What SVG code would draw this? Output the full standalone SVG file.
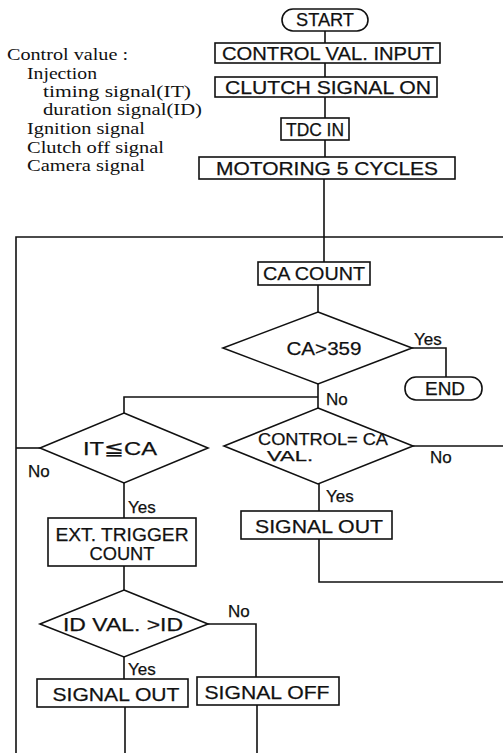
<svg xmlns="http://www.w3.org/2000/svg" width="503" height="753" viewBox="0 0 503 753">
<style>
.n{fill:#fff;stroke:#111;stroke-width:1.6}
.c{fill:none;stroke:#111;stroke-width:1.6}
.t{font-family:"Liberation Sans",Arial,sans-serif;font-size:19px;fill:#111;text-anchor:middle;stroke:#111;stroke-width:0.25}
.s{font-family:"Liberation Sans",Arial,sans-serif;font-size:17px;fill:#111;stroke:#111;stroke-width:0.25}
.r{font-family:"Liberation Serif","Times New Roman",serif;font-size:17px;fill:#111}
</style>
<rect width="503" height="753" fill="#fff"/>
<g id="legend">
<text class="r" x="7" y="60" textLength="121" lengthAdjust="spacingAndGlyphs">Control value :</text>
<text class="r" x="27" y="79" textLength="70" lengthAdjust="spacingAndGlyphs">Injection</text>
<text class="r" x="43" y="97" textLength="148" lengthAdjust="spacingAndGlyphs">timing signal(IT)</text>
<text class="r" x="43" y="115" textLength="159" lengthAdjust="spacingAndGlyphs">duration signal(ID)</text>
<text class="r" x="27" y="134" textLength="118" lengthAdjust="spacingAndGlyphs">Ignition signal</text>
<text class="r" x="27" y="153" textLength="137" lengthAdjust="spacingAndGlyphs">Clutch off signal</text>
<text class="r" x="27" y="171" textLength="118" lengthAdjust="spacingAndGlyphs">Camera signal</text>
</g>
<g id="connectors">
<path class="c" d="M325 31V43M325 63V77M325 97V118M325 140V157M324 179V262"/>
<path class="c" d="M16 753V237H503"/>
<path class="c" d="M318 285V312M318 384V408M318 397H124V413"/>
<path class="c" d="M412 348H446V377"/>
<path class="c" d="M40 448H16"/>
<path class="c" d="M413 446H503"/>
<path class="c" d="M319 484V511M319 539V582H503"/>
<path class="c" d="M124 483V518M124 566V590M124 657V679"/>
<path class="c" d="M208 624H256V677"/>
<path class="c" d="M125 707V753M257 705V753"/>
</g>
<g id="start"><rect class="n" x="282" y="9" width="86" height="22" rx="11"/><text class="t" x="325" y="26" textLength="58" lengthAdjust="spacingAndGlyphs">START</text></g>
<g id="control-input"><rect class="n" x="215" y="43" width="225" height="20"/><text class="t" x="328" y="60" textLength="212" lengthAdjust="spacingAndGlyphs">CONTROL VAL. INPUT</text></g>
<g id="clutch-on"><rect class="n" x="215" y="77" width="222" height="20"/><text class="t" x="328" y="94" textLength="206" lengthAdjust="spacingAndGlyphs">CLUTCH SIGNAL ON</text></g>
<g id="tdc-in"><rect class="n" x="281" y="118" width="68" height="22"/><text class="t" x="315" y="136" textLength="58" lengthAdjust="spacingAndGlyphs">TDC IN</text></g>
<g id="motoring"><rect class="n" x="199" y="157" width="256" height="22"/><text class="t" x="327" y="175" textLength="222" lengthAdjust="spacingAndGlyphs">MOTORING 5 CYCLES</text></g>
<g id="ca-count"><rect class="n" x="258" y="262" width="112" height="23"/><text class="t" x="314" y="280" textLength="102" lengthAdjust="spacingAndGlyphs">CA COUNT</text></g>
<g id="ca-359"><polygon class="n" points="318,312 412,348 318,384 223,348"/><text class="t" x="324" y="355" textLength="75" lengthAdjust="spacingAndGlyphs">CA&gt;359</text></g>
<g id="end"><rect class="n" x="405" y="377" width="77" height="23" rx="11"/><text class="t" x="445" y="395" textLength="40" lengthAdjust="spacingAndGlyphs">END</text></g>
<g id="it-ca"><polygon class="n" points="124,413 208,448 124,483 40,448"/><text class="t" x="120" y="455" textLength="74" lengthAdjust="spacingAndGlyphs">IT≦CA</text></g>
<g id="control-ca"><polygon class="n" points="318,408 413,446 318,484 224,446"/><text class="t" x="323" y="445" style="font-size:16px" textLength="130" lengthAdjust="spacingAndGlyphs">CONTROL= CA</text><text class="t" x="290" y="461" style="font-size:14px" textLength="46" lengthAdjust="spacingAndGlyphs">VAL.</text></g>
<g id="signal-out-r"><rect class="n" x="241" y="511" width="151" height="28"/><text class="t" x="319" y="533" textLength="128" lengthAdjust="spacingAndGlyphs">SIGNAL OUT</text></g>
<g id="ext-trigger"><rect class="n" x="48" y="518" width="148" height="48"/><text class="t" x="122" y="541" textLength="133" lengthAdjust="spacingAndGlyphs">EXT. TRIGGER</text><text class="t" x="122" y="560" textLength="65" lengthAdjust="spacingAndGlyphs">COUNT</text></g>
<g id="id-val"><polygon class="n" points="124,590 208,624 124,657 40,624"/><text class="t" x="123" y="631" textLength="120" lengthAdjust="spacingAndGlyphs">ID VAL. &gt;ID</text></g>
<g id="signal-out-l"><rect class="n" x="37" y="679" width="151" height="28"/><text class="t" x="116" y="701" textLength="127" lengthAdjust="spacingAndGlyphs">SIGNAL OUT</text></g>
<g id="signal-off"><rect class="n" x="197" y="677" width="142" height="28"/><text class="t" x="267" y="699" textLength="125" lengthAdjust="spacingAndGlyphs">SIGNAL OFF</text></g>
<g id="labels">
<text class="s" x="414" y="345">Yes</text>
<text class="s" x="326" y="405">No</text>
<text class="s" x="430" y="463">No</text>
<text class="s" x="28" y="477">No</text>
<text class="s" x="128" y="513">Yes</text>
<text class="s" x="326" y="502">Yes</text>
<text class="s" x="228" y="617">No</text>
<text class="s" x="128" y="675">Yes</text>
</g>
</svg>
